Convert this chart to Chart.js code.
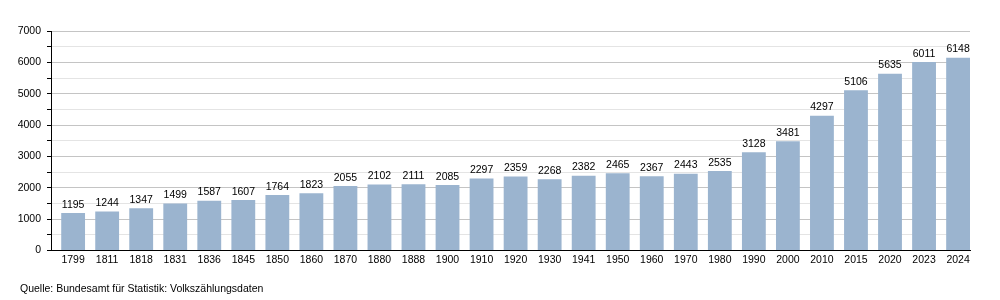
<!DOCTYPE html>
<html lang="de">
<head>
<meta charset="UTF-8" />
<title>Bevölkerungsentwicklung</title>
<script src="https://cdn.jsdelivr.net/npm/chart.js@4.4.0/dist/chart.umd.min.js"></script>
<style>
  html, body { margin: 0; padding: 0; background: #fff; }
  #wrap { width: 1000px; height: 300px; }
</style>
</head>
<body>
<div id="wrap"><canvas id="chart" width="1000" height="300"></canvas></div>
<script>
const years = ["1799","1811","1818","1831","1836","1845","1850","1860","1870","1880","1888","1900",
  "1910","1920","1930","1941","1950","1960","1970","1980","1990","2000","2010","2015","2020","2023","2024"];
const population = [1195,1244,1347,1499,1587,1607,1764,1823,2055,2102,2111,2085,
  2297,2359,2268,2382,2465,2367,2443,2535,3128,3481,4297,5106,5635,6011,6148];
const sourceNote = "Quelle: Bundesamt für Statistik: Volkszählungsdaten";

const fontFamily = "'Liberation Sans', Arial, sans-serif";

// the bars sit at the right of each slot: first gap at the axis, last bar flush right
const shiftBars = {
  id: "shiftBars",
  afterLayout(chart) {
    const x = chart.scales.x;
    const gap = x.width / years.length * 0.3 / 2;
    x._startPixel += gap;
    x._endPixel += gap;
  }
};

// value labels above each bar
const barLabels = {
  id: "barLabels",
  afterDatasetsDraw(chart) {
    const ctx = chart.ctx;
    const meta = chart.getDatasetMeta(0);
    ctx.save();
    ctx.font = "10.5px " + fontFamily;
    ctx.fillStyle = "#000";
    ctx.textAlign = "center";
    ctx.textBaseline = "bottom";
    meta.data.forEach((bar, i) => {
      ctx.fillText(String(chart.data.datasets[0].data[i]), bar.x, bar.y - 3);
    });
    ctx.restore();
  }
};

// source line at the bottom left
const sourceText = {
  id: "sourceText",
  afterDraw(chart) {
    const ctx = chart.ctx;
    ctx.save();
    ctx.font = "10.5px " + fontFamily;
    ctx.fillStyle = "#000";
    ctx.textAlign = "left";
    ctx.textBaseline = "middle";
    ctx.fillText(sourceNote, 20, 289);
    ctx.restore();
  }
};

new Chart(document.getElementById("chart"), {
  type: "bar",
  data: {
    labels: years,
    datasets: [{
      data: population,
      backgroundColor: "#9bb4cf",
      borderWidth: 0,
      barPercentage: 0.7,
      categoryPercentage: 1.0
    }]
  },
  options: {
    responsive: false,
    animation: false,
    devicePixelRatio: 1,
    layout: { padding: { left: 0, right: 30, top: 31, bottom: 31 } },
    plugins: {
      legend: { display: false },
      tooltip: { enabled: false }
    },
    scales: {
      x: {
        grid: { display: false, drawTicks: false },
        border: { color: "#000", width: 1 },
        ticks: {
          color: "#000",
          font: { family: fontFamily, size: 10.5 },
          padding: 3,
          maxRotation: 0,
          autoSkip: false
        }
      },
      y: {
        min: 0,
        max: 7000,
        afterFit(scale) { scale.width = 51; },
        grid: {
          color: (c) => (c.tick && c.tick.value % 1000 === 0 ? "#c4c4c4" : "#e4e4e4"),
          tickColor: "#000",
          tickLength: 4,
          lineWidth: 1
        },
        border: { color: "#000", width: 1 },
        ticks: {
          stepSize: 500,
          autoSkip: false,
          color: "#000",
          font: { family: fontFamily, size: 10.5 },
          padding: 6,
          callback: (v) => (v % 1000 === 0 ? String(v) : "")
        }
      }
    }
  },
  plugins: [shiftBars, barLabels, sourceText]
});
</script>
</body>
</html>
